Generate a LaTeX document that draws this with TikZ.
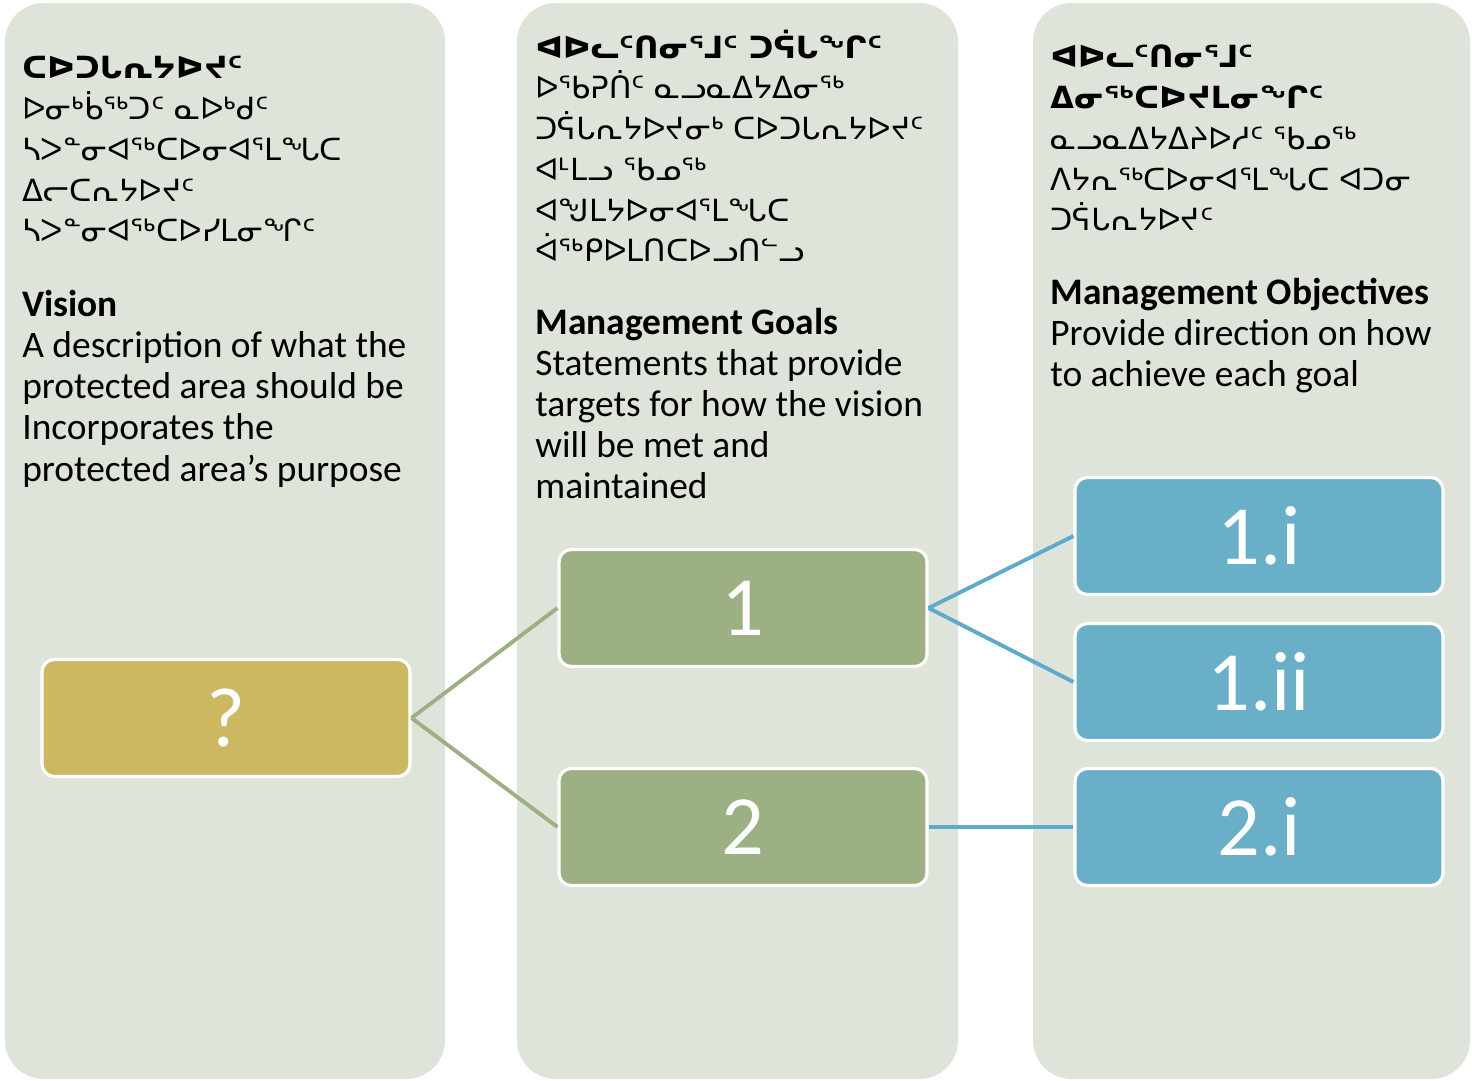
\documentclass[tikz,border=0pt]{standalone}
\usepackage{fontspec}
\setmainfont{Carlito}
\newfontfamily\syl{DejaVu Sans}
\usetikzlibrary{positioning}

\definecolor{panelgray}{HTML}{DEE4DA}
\definecolor{visiongold}{HTML}{CDB862}
\definecolor{goalgreen}{HTML}{9CB083}
\definecolor{objblue}{HTML}{69AFC8}
\definecolor{linkblue}{HTML}{5EAACA}

\tikzset{
  panel/.style={fill=panelgray, rounded corners=22pt},
  boxbase/.style={draw=white, line width=1.8pt, rounded corners=7pt,
    minimum width=7.36cm, minimum height=2.34cm, text=white,
    font=\fontsize{48}{50}\selectfont},
  visionbox/.style={boxbase, fill=visiongold},
  goalbox/.style={boxbase, fill=goalgreen},
  objbox/.style={boxbase, fill=objblue},
  goallink/.style={goalgreen, line width=2.2pt},
  objlink/.style={linkblue, line width=2.2pt},
  sylblock/.style={anchor=base west, align=left, inner sep=0pt,
    font=\syl\fontsize{17.4}{23.2}\selectfont},
  txtblock/.style={anchor=base west, align=left, inner sep=0pt,
    font=\fontsize{21.3}{23.4}\selectfont}
}

\begin{document}
\begin{tikzpicture}[x=0.02cm, y=-0.02cm]
    \useasboundingbox (0,0) rectangle (1472,1081);
    \fill[panel] (5,3) rectangle (445,1079);
    \fill[panel] (517,3) rectangle (958,1079);
    \fill[panel] (1033,3) rectangle (1470,1079);

    % text blocks sit on the baseline of their last line
    \node[sylblock] (visionsyl) at (22,242) {{\bfseries ᑕᐅᑐᒐᕆᔭᐅᔪᑦ}\\ᐅᓂᒃᑳᖅᑐᑦ ᓇᐅᒃᑯᑦ\\ᓴᐳᓐᓂᐊᖅᑕᐅᓂᐊᕐᒪᖓᑕ\\ᐃᓕᑕᕆᔭᐅᔪᑦ\\ᓴᐳᓐᓂᐊᖅᑕᐅᓯᒪᓂᖏᑦ};
    \node[txtblock] (visiontxt) at (22,481) {\textbf{Vision}\\A description of what the\\protected area should be\\Incorporates the\\protected area’s purpose};

    \node[sylblock] (goalsyl) at (535,262) {{\bfseries ᐊᐅᓚᑦᑎᓂᕐᒧᑦ ᑐᕌᒐᖏᑦ}\\ᐅᖃᕈᑏᑦ ᓇᓗᓇᐃᔭᐃᓂᖅ\\ᑐᕌᒐᕆᔭᐅᔪᓂᒃ ᑕᐅᑐᒐᕆᔭᐅᔪᑦ\\ᐊᒻᒪᓗ ᖃᓄᖅ\\ᐊᖑᒪᔭᐅᓂᐊᕐᒪᖓᑕ\\ᐋᖅᑭᐅᒪᑎᑕᐅᓗᑎᓪᓗ};
    \node[txtblock] (goaltxt) at (535,499) {\textbf{Management Goals}\\Statements that provide\\targets for how the vision\\will be met and\\maintained};

    \node[sylblock] (objsyl) at (1050,231) {{\bfseries ᐊᐅᓚᑦᑎᓂᕐᒧᑦ}\\{\bfseries ᐃᓂᖅᑕᐅᔪᒪᓂᖏᑦ}\\ᓇᓗᓇᐃᔭᐃᔨᐅᓱᑦ ᖃᓄᖅ\\ᐱᔭᕆᖅᑕᐅᓂᐊᕐᒪᖓᑕ ᐊᑐᓂ\\ᑐᕌᒐᕆᔭᐅᔪᑦ};
    \node[txtblock] (objtxt) at (1050,387) {\textbf{Management Objectives}\\Provide direction on how\\to achieve each goal};

    \node[visionbox] (qbox) at (226,718) {?};
    \node[goalbox] (g1) at (743,608) {1};
    \node[goalbox] (g2) at (743,827) {2};
    \node[objbox] (o1i) at (1259,536) {1.i};
    \node[objbox] (o1ii) at (1259,682) {1.ii};
    \node[objbox] (o2i) at (1259,827) {2.i};

    \draw[goallink] (qbox.east) -- (g1.west);
    \draw[goallink] (qbox.east) -- (g2.west);
    \draw[objlink] (g1.east) -- (o1i.west);
    \draw[objlink] (g1.east) -- (o1ii.west);
    \draw[objlink] (g2.east) -- (o2i.west);
\end{tikzpicture}
\end{document}
